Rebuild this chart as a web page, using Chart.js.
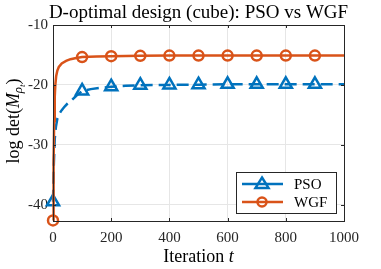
<!DOCTYPE html>
<html><head><meta charset="utf-8">
<script src="https://cdn.jsdelivr.net/npm/chart.js@4/dist/chart.umd.min.js"></script>
<style>html,body{margin:0;padding:0;background:#fff}#w{width:381px;height:269px}</style>
</head><body><div id="w"><canvas id="c"></canvas></div>
<script>
const TITLE = 'D-optimal design (cube): PSO vs WGF';
const xTicks = [0, 200, 400, 600, 800, 1000];
const yTicks = [-40, -30, -20, -10];
const psoT = [0, 3, 6, 10, 15, 22, 30, 40, 50, 65, 80, 100, 130, 160, 200, 250, 300, 400, 500, 600, 700, 800, 900, 1000];
const psoY = [-39.5, -33, -29, -27, -25.6, -24.8, -24.2, -23.6, -23.1, -22.5, -21.8, -21.0, -20.7, -20.5, -20.3, -20.15, -20.05, -20.0, -19.95, -19.9, -19.9, -19.9, -19.9, -19.9];
const wgfT = [0, 2, 4, 6, 8, 11, 15, 20, 30, 45, 60, 80, 100, 150, 200, 300, 400, 500, 600, 700, 800, 900, 1000];
const wgfY = [-42.6, -33, -26, -22, -20, -18.5, -17.6, -17.0, -16.4, -16.0, -15.7, -15.5, -15.35, -15.25, -15.2, -15.15, -15.1, -15.1, -15.1, -15.1, -15.1, -15.1, -15.1];
const markerT = [0, 100, 200, 300, 400, 500, 600, 700, 800, 900];
const seriesNames = ['PSO', 'WGF'];

const BLUE = '#0072BD', ORANGE = '#D95319';
const FONT = "'Liberation Serif', 'DejaVu Serif', serif";

const mk = (T, Y) => T.map((t, i) => ({x: t, y: Y[i]}));
const rad = (r) => (ctx) => (ctx.raw && markerT.includes(ctx.raw.x)) ? r : 0;

const deco = {
  id: 'deco',
  afterDraw(chart) {
    const {ctx, chartArea: a} = chart;
    ctx.save();
    ctx.strokeStyle = '#262626'; ctx.lineWidth = 1;
    ctx.strokeRect(a.left + 0.5, a.top + 0.5, a.right - a.left, a.bottom - a.top);
    const xs = chart.scales.x, ys = chart.scales.y;
    ctx.beginPath();
    xTicks.forEach(v => { const px = Math.round(xs.getPixelForValue(v)) + 0.5;
      ctx.moveTo(px, a.bottom); ctx.lineTo(px, a.bottom - 3); ctx.moveTo(px, a.top); ctx.lineTo(px, a.top + 3); });
    yTicks.forEach(v => { const py = Math.round(ys.getPixelForValue(v)) + 0.5;
      ctx.moveTo(a.left, py); ctx.lineTo(a.left + 3, py); ctx.moveTo(a.right, py); ctx.lineTo(a.right - 3, py); });
    ctx.stroke();
    ctx.fillStyle = '#000';
    ctx.font = '19px ' + FONT; ctx.textAlign = 'center'; ctx.textBaseline = 'alphabetic';
    ctx.fillText(TITLE, (a.left + a.right) / 2, 18);
    const s1 = 'Iteration ', s2 = 't';
    ctx.font = '18px ' + FONT; const w1 = ctx.measureText(s1).width;
    ctx.font = 'italic 18px ' + FONT; const w2 = ctx.measureText(s2).width;
    let x0 = (a.left + a.right) / 2 - (w1 + w2) / 2;
    ctx.textAlign = 'left';
    ctx.font = '18px ' + FONT; ctx.fillText(s1, x0, 262);
    ctx.font = 'italic 18px ' + FONT; ctx.fillText(s2, x0 + w1, 262);
    ctx.save();
    ctx.translate(19, (a.top + a.bottom) / 2 - 2);
    ctx.rotate(-Math.PI / 2);
    const parts = [
      {t: 'log det(', f: '18px ', dy: 0},
      {t: 'M', f: 'italic 18px ', dy: 0},
      {t: 'ρ', f: 'italic 13px ', dy: 3},
      {t: 't', f: 'italic 9px ', dy: 6},
      {t: ')', f: '18px ', dy: 0}
    ];
    let tw = 0; parts.forEach(p => { ctx.font = p.f + FONT; p.w = ctx.measureText(p.t).width; tw += p.w; });
    let cx = -tw / 2;
    parts.forEach(p => { ctx.font = p.f + FONT; ctx.fillText(p.t, cx, p.dy); cx += p.w; });
    ctx.restore();
    const lx = 236, ly = 172, lw = 100, lh = 41;
    ctx.fillStyle = '#fff'; ctx.fillRect(lx, ly, lw, lh);
    ctx.strokeStyle = '#262626'; ctx.lineWidth = 1;
    ctx.strokeRect(lx + 0.5, ly + 0.5, lw, lh);
    const rows = [
      {name: seriesNames[0], c: BLUE, y: ly + 12, m: 'tri'},
      {name: seriesNames[1], c: ORANGE, y: ly + 30, m: 'circ'}
    ];
    rows.forEach(r => {
      ctx.strokeStyle = r.c; ctx.lineWidth = 2.5; ctx.setLineDash([]);
      ctx.beginPath(); ctx.moveTo(lx + 6, r.y); ctx.lineTo(lx + 47, r.y); ctx.stroke();
      const mx = lx + 26;
      ctx.beginPath();
      if (r.m === 'tri') { const s = 6.5; ctx.moveTo(mx, r.y - s); ctx.lineTo(mx + s, r.y + s * 0.6); ctx.lineTo(mx - s, r.y + s * 0.6); ctx.closePath(); }
      else { ctx.arc(mx, r.y, 4.5, 0, Math.PI * 2); }
      ctx.stroke();
      ctx.fillStyle = '#000'; ctx.font = '15px ' + FONT; ctx.textAlign = 'left'; ctx.textBaseline = 'middle';
      ctx.fillText(r.name, lx + 58, r.y + 1);
    });
    ctx.restore();
  }
};

new Chart(document.getElementById('c'), {
  type: 'line',
  data: {
    datasets: [
      {label: seriesNames[0], data: mk(psoT, psoY), borderColor: BLUE, backgroundColor: 'rgba(0,0,0,0)',
       borderWidth: 2.5, borderDash: [12, 6], pointStyle: 'triangle', pointRadius: rad(7), pointBorderWidth: 2.5,
       pointBorderColor: BLUE, pointBackgroundColor: 'rgba(0,0,0,0)', tension: 0, order: 1, clip: false},
      {label: seriesNames[1], data: mk(wgfT, wgfY), borderColor: ORANGE, backgroundColor: 'rgba(0,0,0,0)',
       borderWidth: 2.5, pointStyle: 'circle', pointRadius: rad(5), pointBorderWidth: 2.5,
       pointBorderColor: ORANGE, pointBackgroundColor: 'rgba(0,0,0,0)', tension: 0, order: 0, clip: false}
    ]
  },
  options: {
    responsive: true, maintainAspectRatio: false, animation: false,
    layout: {padding: {top: 25, right: 37, left: 0, bottom: 0}},
    plugins: {legend: {display: false}, tooltip: {enabled: false}},
    elements: {point: {hoverRadius: 0}},
    scales: {
      x: {type: 'linear', min: 0, max: 1000,
        afterBuildTicks: s => { s.ticks = xTicks.map(v => ({value: v})); },
        afterFit: s => { s.height = 48; },
        grid: {color: '#e6e6e6', drawTicks: false},
        border: {display: false},
        ticks: {padding: 8, color: '#262626', font: {family: FONT, size: 15}, maxRotation: 0, callback: v => String(v)}},
      y: {type: 'linear', min: -42.7, max: -10,
        afterBuildTicks: s => { s.ticks = yTicks.map(v => ({value: v})); },
        afterFit: s => { s.width = 53; },
        grid: {color: '#e6e6e6', drawTicks: false},
        border: {display: false},
        ticks: {padding: 5, color: '#262626', font: {family: FONT, size: 15}, callback: v => String(v)}}
    }
  },
  plugins: [deco]
});
</script></body></html>
